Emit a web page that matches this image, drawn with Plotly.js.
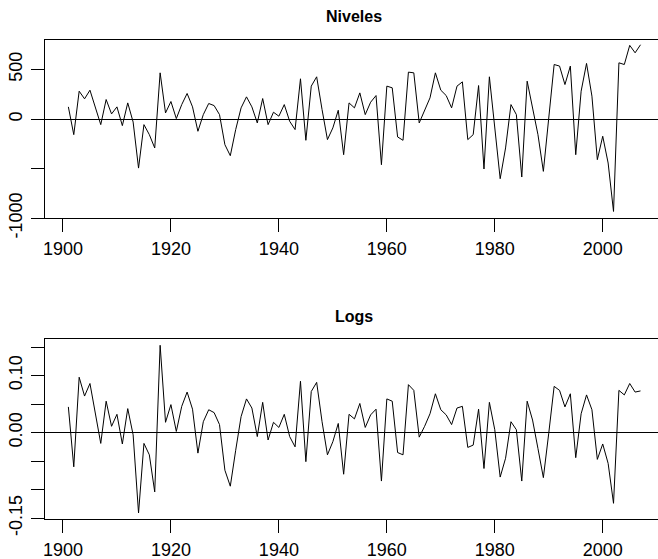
<!DOCTYPE html>
<html>
<head>
<meta charset="utf-8">
<script src="https://cdn.plot.ly/plotly-3.0.1.min.js"></script>
<style>html,body{margin:0;padding:0;background:#fff;}#chart{width:658px;height:559px;}</style>
</head>
<body>
<div id="chart"></div>
<script>
var startYear = 1901;
var niveles = [123,-157,281,204,291,113,-56,197,52,123,-66,163,-30,-494,-56,-157,-291,466,62,177,
5,146,258,123,-123,45,157,136,45,-258,-369,-106,113,224,123,-39,207,-56,69,29,
146,-22,-106,406,-214,332,426,96,-207,-89,89,-359,163,113,264,45,170,237,-460,332,
315,-180,-214,473,466,-39,79,214,466,291,237,113,332,375,-207,-157,338,-503,426,-60,
-601,-291,146,45,-584,382,130,-157,-527,-5,550,534,348,534,-359,281,561,231,-409,-173,
-443,-931,567,550,743,668,749];
var logs = [0.045,-0.060,0.097,0.064,0.086,0.034,-0.019,0.055,0.011,0.032,-0.020,0.042,-0.004,-0.141,-0.019,-0.039,-0.104,0.153,0.018,0.049,
0.002,0.046,0.071,0.041,-0.036,0.019,0.040,0.035,0.014,-0.066,-0.094,-0.031,0.028,0.059,0.043,-0.007,0.053,-0.013,0.018,0.009,
0.032,-0.007,-0.025,0.090,-0.051,0.072,0.088,0.019,-0.039,-0.016,0.016,-0.073,0.032,0.024,0.051,0.009,0.031,0.041,-0.085,0.059,
0.055,-0.035,-0.039,0.084,0.074,-0.008,0.011,0.033,0.068,0.040,0.031,0.014,0.043,0.046,-0.026,-0.022,0.041,-0.063,0.053,0.005,
-0.078,-0.045,0.019,0.005,-0.085,0.055,0.022,-0.028,-0.079,-0.001,0.081,0.074,0.045,0.068,-0.044,0.033,0.066,0.040,-0.047,-0.020,
-0.054,-0.124,0.074,0.066,0.086,0.071,0.073];
var years = niveles.map(function(_, i){ return startYear + i; });
var xTicks = [1900,1920,1940,1960,1980,2000];
var nivTickVals = [-1000,-500,0,500];
var nivTickText = ['-1000','','0','500'];
var logTickVals = [-0.15,-0.10,-0.05,0,0.05,0.10,0.15];
var logTickText = ['-0.15','','','0.00','','0.10',''];
var titles = ['Niveles','Logs'];

var font = {family:'Liberation Sans, Arial, sans-serif', size:18, color:'#000'};
var lineStyle = {color:'#000', width:1};

var traces = [
  {x:years, y:niveles, type:'scatter', mode:'lines', line:lineStyle, xaxis:'x', yaxis:'y', hoverinfo:'skip'},
  {x:years, y:logs, type:'scatter', mode:'lines', line:lineStyle, xaxis:'x2', yaxis:'y2', hoverinfo:'skip'}
];

function xax(anchor){
  return {domain:[0,1], anchor:anchor, range:[1896.67,2010.24], tickvals:xTicks, ticktext:xTicks.map(String),
    ticks:'outside', ticklen:13, tickwidth:1, tickcolor:'#000', showline:true, linecolor:'#000', linewidth:1,
    mirror:true, showgrid:false, zeroline:false, tickfont:font, automargin:false, ticklabelstandoff:1, fixedrange:true};
}
function yax(anchor, domain, range, tv, tt){
  return {domain:domain, anchor:anchor, range:range, tickvals:tv, ticktext:tt, tickangle:-90,
    ticks:'outside', ticklen:13, tickwidth:1, tickcolor:'#000', showline:true, linecolor:'#000', linewidth:1,
    mirror:false, showgrid:false, zeroline:true, zerolinecolor:'#000', zerolinewidth:1, tickfont:font,
    automargin:false, ticklabelstandoff:2, fixedrange:true};
}

var H = 559;
var layout = {
  width:658, height:559,
  margin:{l:45, r:0, t:0, b:0},
  paper_bgcolor:'#fff', plot_bgcolor:'#fff',
  showlegend:false,
  xaxis: xax('y'),
  yaxis: yax('x', [1-218.3/H, 1-39.5/H], [-1000, 802], nivTickVals, nivTickText),
  xaxis2: xax('y2'),
  yaxis2: yax('x2', [1-519/H, 1-339.3/H], [-0.1515, 0.1635], logTickVals, logTickText),
  annotations:[
    {text:'<b>'+titles[0]+'</b>', xref:'paper', yref:'paper', x:(354-45)/613, y:1-17/H, xanchor:'center', yanchor:'middle', showarrow:false, font:{family:'Liberation Sans, Arial, sans-serif', size:16, color:'#000'}},
    {text:'<b>'+titles[1]+'</b>', xref:'paper', yref:'paper', x:(354-45)/613, y:1-316.8/H, xanchor:'center', yanchor:'middle', showarrow:false, font:{family:'Liberation Sans, Arial, sans-serif', size:16, color:'#000'}}
  ]
};
Plotly.newPlot('chart', traces, layout, {staticPlot:true, displayModeBar:false});
</script>
</body>
</html>
